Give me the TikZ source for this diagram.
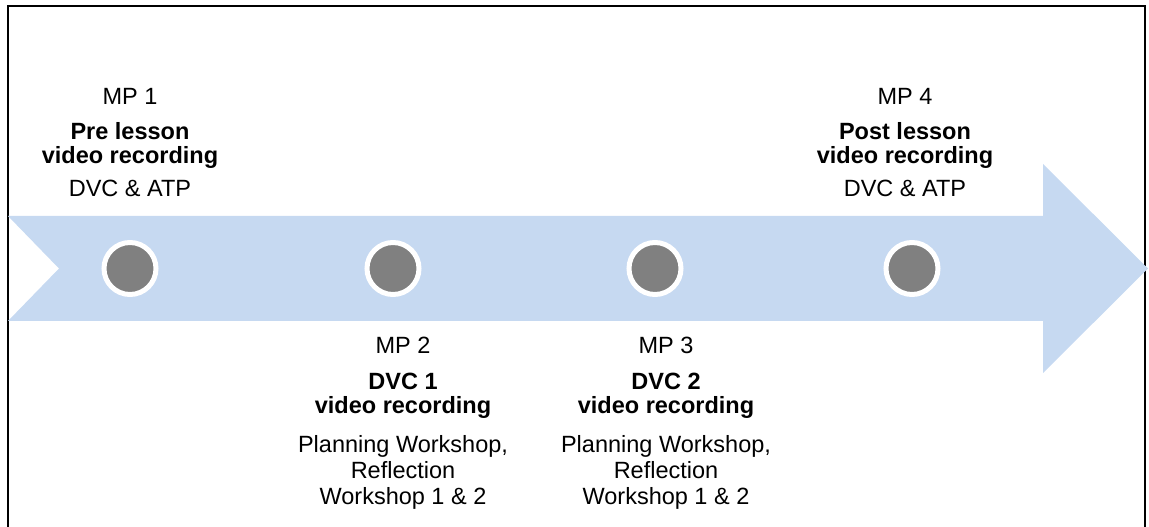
\documentclass[tikz,border=0pt]{standalone}
\usepackage{fontspec}
\setmainfont{Liberation Sans}
\definecolor{arrowblue}{HTML}{C6D9F1}
\definecolor{dotgray}{HTML}{808080}

\begin{document}
\begin{tikzpicture}[x=1bp,y=-1bp,
    mptext/.style={font=\fontsize{23.5bp}{26bp}\selectfont,align=center,inner sep=0pt,anchor=north},
    mptitle/.style={mptext,font=\fontsize{23.5bp}{23.5bp}\selectfont\bfseries}]

\useasboundingbox (0,0) rectangle (1149,527);
\draw[line width=1.5bp] (8,6) rectangle (1145,560);

% timeline arrow
\fill[arrowblue] (8,216) -- (1043,216) -- (1043,164) -- (1148,268.5) -- (1043,373)
    -- (1043,321) -- (8,321) -- (59,268.5) -- cycle;

\foreach \i/\x in {1/130,2/393,3/655,4/912}
    \node[circle,fill=dotgray,draw=white,line width=5bp,minimum size=52bp,inner sep=0pt] (dot\i) at (\x,268.5) {};

\foreach \i/\x/\t in {1/130/Pre lesson,4/905/Post lesson} {
    \node[mptext] (mp\i) at (\x,88) {MP \i};
    \node[mptitle] (title\i) at (\x,122.5) {\t\\video recording};
    \node[mptext] (note\i) at (\x,180) {DVC \& ATP};
}
\foreach \i/\x/\d in {2/403/1,3/666/2} {
    \node[mptext] (mp\i) at (\x,337) {MP \i};
    \node[mptitle] (title\i) at (\x,373) {DVC \d\\video recording};
    \node[mptext] (note\i) at (\x,435) {Planning Workshop,\\Reflection\\Workshop 1 \& 2};
}

\end{tikzpicture}
\end{document}
